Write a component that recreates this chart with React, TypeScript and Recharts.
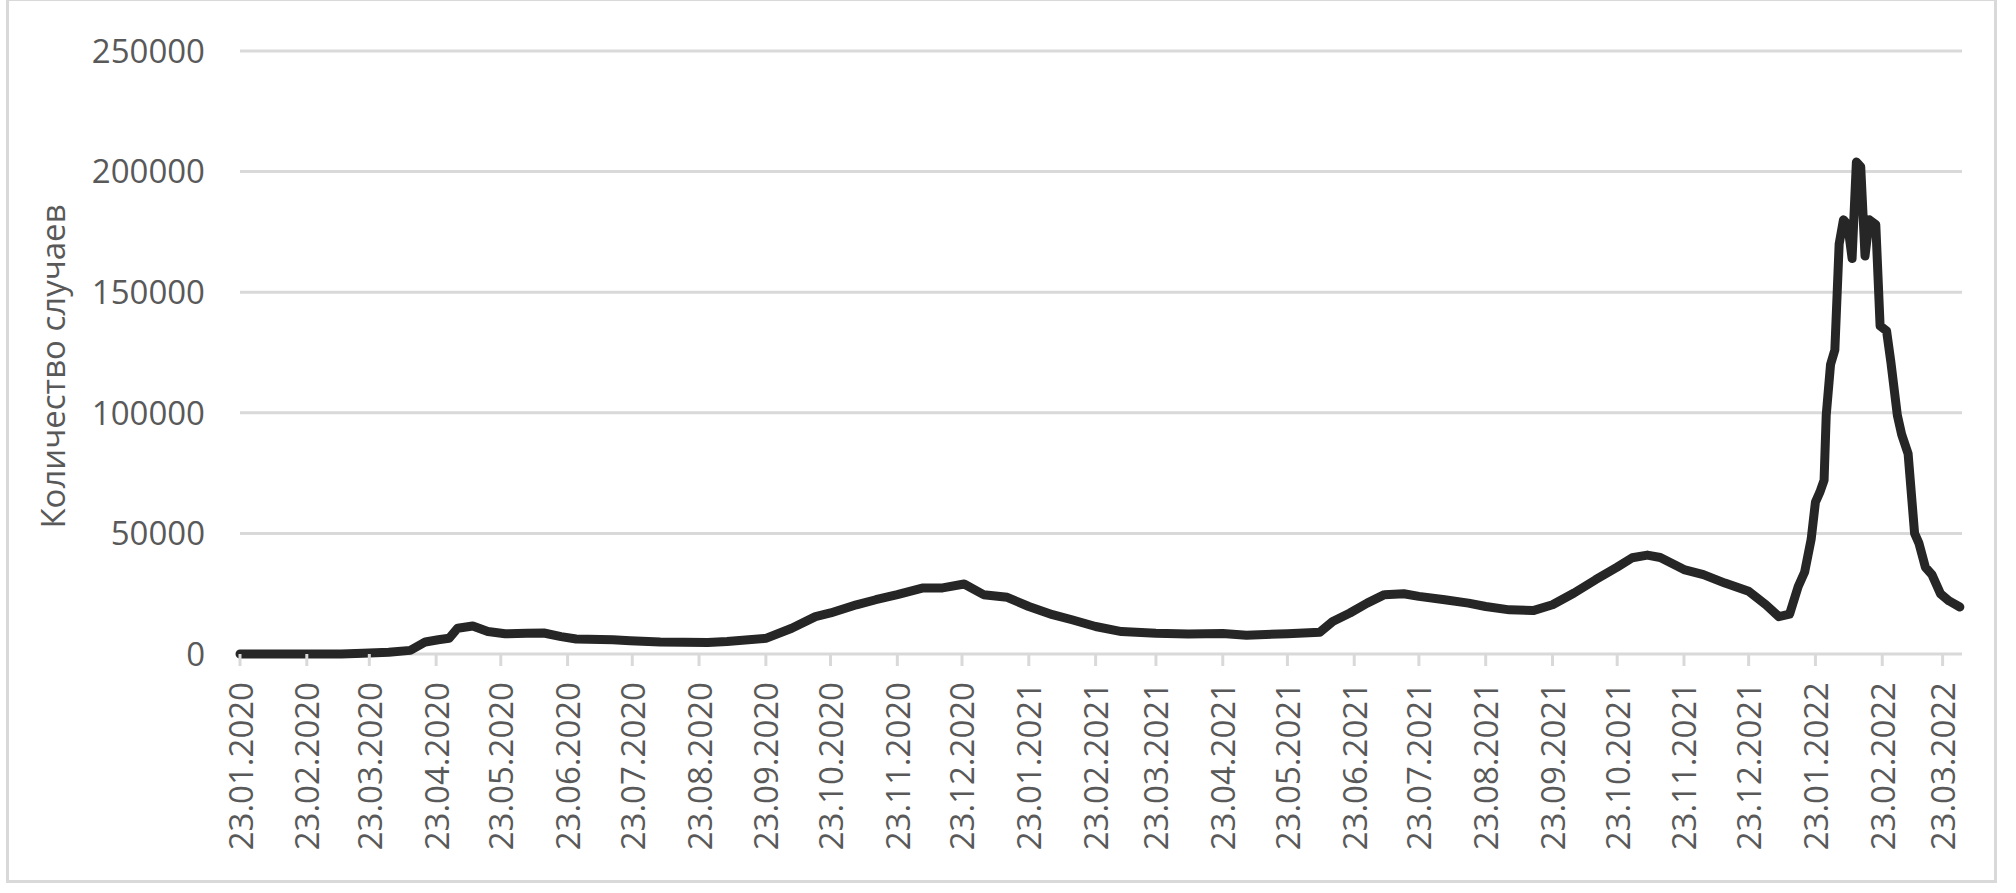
import React from 'react';
import { LineChart, Line, XAxis, YAxis, CartesianGrid, Label } from 'recharts';

const dates = [
  '23.01.2020', '15.02.2020', '10.03.2020', '20.03.2020', '01.04.2020', '11.04.2020', '18.04.2020',
  '24.04.2020', '29.04.2020', '03.05.2020', '10.05.2020', '17.05.2020', '25.05.2020', '04.06.2020',
  '12.06.2020', '20.06.2020', '27.06.2020', '14.07.2020', '22.07.2020', '05.08.2020', '27.08.2020',
  '05.09.2020', '23.09.2020', '05.10.2020', '16.10.2020', '23.10.2020', '04.11.2020', '13.11.2020',
  '23.11.2020', '05.12.2020', '14.12.2020', '24.12.2020', '02.01.2021', '13.01.2021', '23.01.2021',
  '03.02.2021', '12.02.2021', '23.02.2021', '07.03.2021', '23.03.2021', '07.04.2021', '23.04.2021',
  '04.05.2021', '23.05.2021', '07.06.2021', '13.06.2021', '21.06.2021', '29.06.2021', '07.07.2021',
  '16.07.2021', '23.07.2021', '04.08.2021', '15.08.2021', '23.08.2021', '03.09.2021', '14.09.2021',
  '23.09.2021', '03.10.2021', '13.10.2021', '23.10.2021', '30.10.2021', '06.11.2021', '12.11.2021',
  '23.11.2021', '02.12.2021', '12.12.2021', '23.12.2021', '31.12.2021', '06.01.2022', '11.01.2022',
  '15.01.2022', '18.01.2022', '21.01.2022', '23.01.2022', '25.01.2022', '27.01.2022', '28.01.2022',
  '30.01.2022', '01.02.2022', '03.02.2022', '05.02.2022', '07.02.2022', '09.02.2022', '11.02.2022',
  '13.02.2022', '15.02.2022', '17.02.2022', '20.02.2022', '22.02.2022', '25.02.2022', '27.02.2022',
  '02.03.2022', '04.03.2022', '07.03.2022', '10.03.2022', '12.03.2022', '15.03.2022', '18.03.2022',
  '22.03.2022', '26.03.2022', '31.03.2022',
];

const cases = [
  0, 0, 0, 300, 700, 1500, 5000,
  5900, 6500, 10700, 11600, 9300, 8400, 8600,
  8700, 7200, 6200, 5900, 5500, 5000, 4800,
  5200, 6500, 10700, 15500, 17000, 20400, 22500,
  24600, 27400, 27400, 29000, 24600, 23500, 19700,
  16300, 14200, 11400, 9300, 8600, 8300, 8500,
  7800, 8400, 9000, 13500, 17000, 21100, 24600,
  25000, 23900, 22500, 21100, 19700, 18300, 18000,
  20400, 25300, 30800, 36000, 39900, 41000, 40000,
  35000, 32900, 29400, 26000, 20400, 15500, 16500,
  28000, 34000, 47500, 63000, 67000, 72000, 99000,
  120000, 126000, 170000, 180000, 178000, 164000, 204000,
  202000, 165000, 180000, 178000, 136000, 134000, 121000,
  99000, 91000, 83000, 50000, 46000, 36000, 33000,
  25000, 22000, 19500,
];

const tickLabels = [
  '23.01.2020', '23.02.2020', '23.03.2020', '23.04.2020', '23.05.2020', '23.06.2020', '23.07.2020',
  '23.08.2020', '23.09.2020', '23.10.2020', '23.11.2020', '23.12.2020', '23.01.2021', '23.02.2021',
  '23.03.2021', '23.04.2021', '23.05.2021', '23.06.2021', '23.07.2021', '23.08.2021', '23.09.2021',
  '23.10.2021', '23.11.2021', '23.12.2021', '23.01.2022', '23.02.2022', '23.03.2022',
];

const yTicks = [0, 50000, 100000, 150000, 200000, 250000];
const startDate = '23.01.2020';
const endDate = '01.04.2022';
const yTitle = 'Количество случаев';

const FONT = '"Open Sans", sans-serif';
const TEXT = '#595959';
const GRID = '#d9d9d9';

function toUTC(s: string) {
  const [d, m, y] = s.split('.').map(Number);
  return Date.UTC(y, m - 1, d);
}
function dayIndex(s: string) {
  return Math.round((toUTC(s) - toUTC(startDate)) / 86400000);
}

const data = dates.map((d, i) => ({ day: dayIndex(d), value: cases[i] }));
const tickDays = tickLabels.map(dayIndex);
const labelByDay: Record<number, string> = {};
tickDays.forEach((d, i) => { labelByDay[d] = tickLabels[i]; });

const XTick = (props: any) => {
  const { x, y, payload } = props;
  return (
    <g>
      <line x1={x} x2={x} y1={y} y2={y + 12} stroke={GRID} strokeWidth={3} />
      <text
        transform={`translate(${x},${y + 28}) rotate(-90)`}
        textAnchor="end"
        dominantBaseline="central"
        fill={TEXT}
        fontSize={33}
        fontFamily={FONT}
      >
        {labelByDay[payload.value]}
      </text>
    </g>
  );
};

const YTitle = (props: any) => {
  const vb = props.viewBox || {};
  const cy = (vb.y ?? 51) + (vb.height ?? 603) / 2 + 14;
  return (
    <text
      transform={`translate(52,${cy}) rotate(-90)`}
      textAnchor="middle"
      dominantBaseline="central"
      fill={TEXT}
      fontSize={33}
      fontFamily={FONT}
    >
      {yTitle}
    </text>
  );
};

export default function App() {
  return (
    <div style={{ position: 'absolute', left: 0, top: 0, width: 2016, height: 893, background: '#fff', overflow: 'hidden' }}>
      <div
        style={{
          position: 'absolute', left: 6, top: -2, width: 1991, height: 885,
          border: `3px solid ${GRID}`, boxSizing: 'border-box',
        }}
      />
      <div style={{ position: 'absolute', left: 0, top: 0 }}>
        <LineChart
          width={2016}
          height={893}
          data={data}
          margin={{ top: 51, right: 54, left: 140, bottom: 39 }}
        >
          <CartesianGrid vertical={false} stroke={GRID} strokeWidth={3} />
          <XAxis
            dataKey="day"
            type="number"
            domain={[0, dayIndex(endDate)]}
            ticks={tickDays}
            interval={0}
            height={200}
            axisLine={false}
            tickLine={false}
            tickSize={0}
            tickMargin={0}
            tick={<XTick />}
          />
          <YAxis
            type="number"
            domain={[0, 250000]}
            ticks={yTicks}
            width={100}
            axisLine={false}
            tickLine={false}
            tickSize={0}
            tickMargin={35}
            tick={{ fill: TEXT, fontSize: 33, fontFamily: FONT }}
          >
            <Label content={<YTitle />} />
          </YAxis>
          <Line
            type="linear"
            dataKey="value"
            stroke="#262626"
            strokeWidth={9}
            dot={false}
            strokeLinejoin="round"
            strokeLinecap="round"
            isAnimationActive={false}
          />
        </LineChart>
      </div>
    </div>
  );
}
